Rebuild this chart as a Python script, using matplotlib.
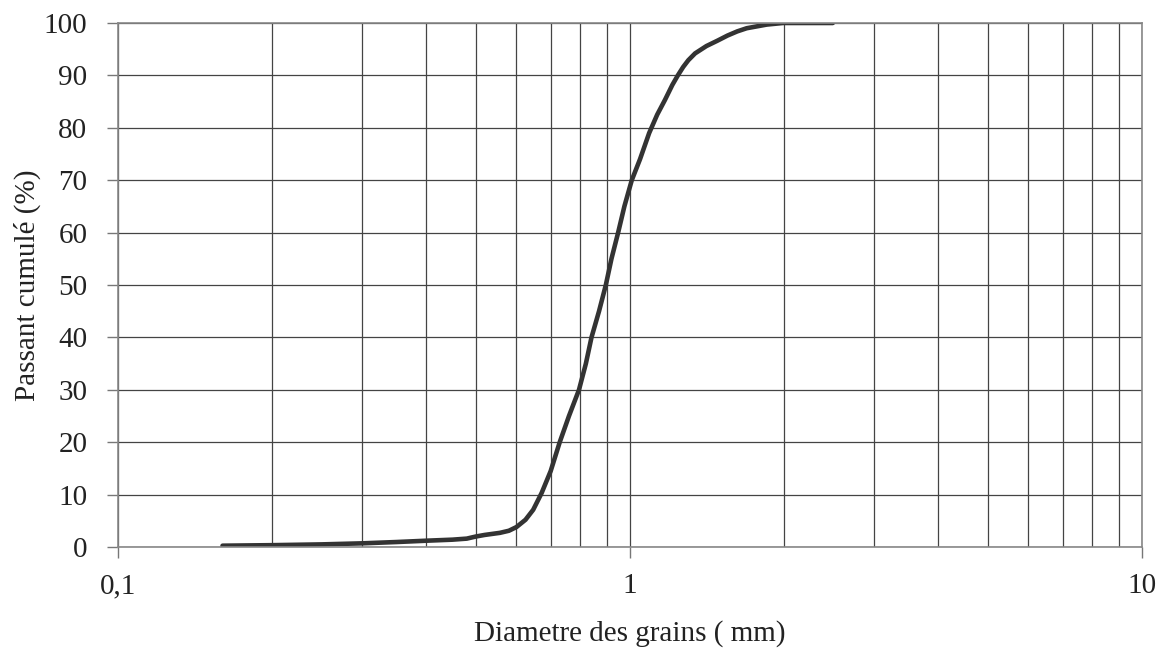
import matplotlib.pyplot as plt
from matplotlib.ticker import FixedLocator, FixedFormatter, NullFormatter

plt.rcParams['font.family'] = ['Liberation Serif', 'DejaVu Serif']

# granulometric curve
diam = [0.16, 0.2, 0.25, 0.3, 0.35, 0.4, 0.45, 0.48, 0.5, 0.52, 0.557, 0.58,
        0.6, 0.625, 0.647, 0.672, 0.7, 0.729, 0.76, 0.795, 0.82, 0.841, 0.87,
        0.897, 0.92, 0.948, 0.975, 1.008, 1.046, 1.09, 1.13, 1.17, 1.21, 1.24,
        1.27, 1.30, 1.34, 1.41, 1.48, 1.55, 1.62, 1.69, 1.85, 1.99, 2.49]
passant = [0.25, 0.35, 0.5, 0.7, 0.95, 1.2, 1.4, 1.6, 2.0, 2.3, 2.7, 3.1,
           3.8, 5.2, 7.1, 10.3, 14.5, 20.0, 25.0, 30.0, 35.0, 40.0, 45.0,
           50.0, 55.0, 60.0, 65.0, 70.0, 74.0, 79.0, 82.5, 85.3, 88.2, 90.0,
           91.6, 92.9, 94.2, 95.6, 96.6, 97.6, 98.4, 99.0, 99.7, 100.0, 100.0]

x_ticks = [0.1, 1, 10]
x_labels = ['0,1', '1', '10']
y_ticks = list(range(0, 101, 10))

fig = plt.figure(figsize=(11.6, 6.54), dpi=100)
ax = fig.add_axes([118 / 1160, 1 - 547 / 654, (1142 - 118) / 1160, (547 - 23) / 654])

ax.plot(diam, passant, color='#333333', lw=3.3, solid_capstyle='round',
        solid_joinstyle='round')

ax.set_xscale('log')
ax.set_xlim(0.1, 10)
ax.set_ylim(0, 100)
ax.xaxis.set_major_locator(FixedLocator(x_ticks))
ax.xaxis.set_major_formatter(FixedFormatter(x_labels))
ax.xaxis.set_minor_locator(FixedLocator([d * m for d in (0.1, 1) for m in range(2, 10)]))
ax.xaxis.set_minor_formatter(NullFormatter())
ax.set_yticks(y_ticks)

ax.grid(True, which='both', color='#444444', lw=0.9)
ax.tick_params(axis='x', which='minor', length=0)
ax.tick_params(axis='both', which='major', direction='out', length=8, width=1,
               color='#777777', labelsize=21, labelcolor='#222222')
ax.tick_params(axis='x', which='major', pad=11)
ax.tick_params(axis='y', which='major', pad=14)
for side in ax.spines.values():
    side.set_color('#888888')
    side.set_linewidth(1.2)

ax.set_xlabel('Diametre des grains ( mm)', fontsize=21, color='#222222', labelpad=15)
ax.set_ylabel('Passant cumulé (%)', fontsize=21, color='#222222', labelpad=2)

fig.savefig('out.png', dpi=100)
